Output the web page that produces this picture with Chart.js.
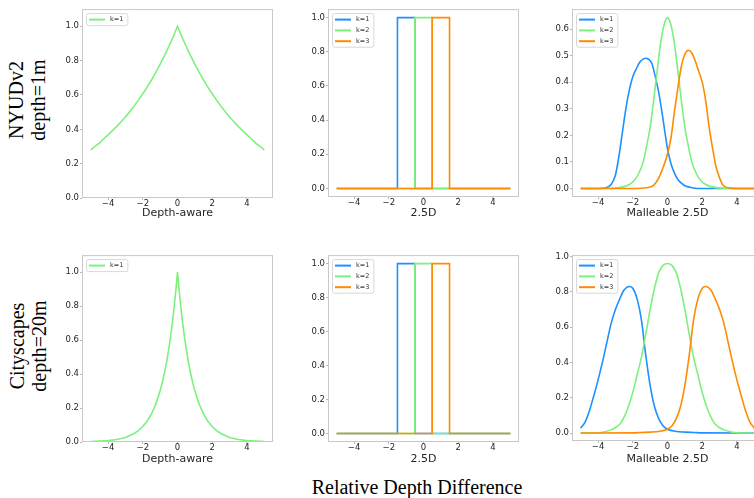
<!DOCTYPE html>
<html>
<head>
<meta charset="utf-8">
<script src="https://cdn.jsdelivr.net/npm/chart.js@4.4.1/dist/chart.umd.min.js"></script>
<style>
  html, body { margin: 0; padding: 0; background: #fff; }
  body { position: relative; width: 754px; height: 498px; overflow: hidden; }
  canvas { position: absolute; }
  .row-label {
    position: absolute; font-family: "Liberation Serif", serif; font-size: 20px; line-height: 22px;
    text-align: center; white-space: nowrap; color: #000;
    transform: translate(-50%, -50%) rotate(-90deg);
  }
  .fig-label {
    position: absolute; font-family: "Liberation Serif", serif; font-size: 20px; line-height: 20px;
    white-space: nowrap; color: #000; transform: translateX(-50%);
  }
</style>
</head>
<body>
<div class="row-label" style="left:27px; top:100px">NYUDv2<br>depth=1m</div>
<div class="row-label" style="left:28px; top:346px">Cityscapes<br>depth=20m</div>
<div class="fig-label" style="left:417px; top:477px">Relative Depth Difference</div>

<canvas id="nyuAware"></canvas>
<canvas id="nyuBins"></canvas>
<canvas id="nyuMalleable"></canvas>
<canvas id="cityAware"></canvas>
<canvas id="cityBins"></canvas>
<canvas id="cityMalleable"></canvas>

<script>
const xTicks = [-4, -2, 0, 2, 4];
const unitTicks = [0, 0.2, 0.4, 0.6, 0.8, 1.0];
const tenthTicks = [0, 0.1, 0.2, 0.3, 0.4, 0.5, 0.6];
const kLabels = ['k=1', 'k=2', 'k=3'];
const kColors = ['#1e90ff', '#7ef07e', '#ff8c00'];

// depth-aware weight, NYUDv2
const nyuAwareX = [-5, -4.75, -4.5, -4.25, -4, -3.75, -3.5, -3.25, -3, -2.75, -2.5, -2.25, -2, -1.75, -1.5, -1.25, -1, -0.75, -0.5, -0.25, 0,
                   0.25, 0.5, 0.75, 1, 1.25, 1.5, 1.75, 2, 2.25, 2.5, 2.75, 3, 3.25, 3.5, 3.75, 4, 4.25, 4.5, 4.75, 5];
const nyuAwareY = [0.28, 0.30, 0.32, 0.345, 0.368, 0.392, 0.417, 0.444, 0.472, 0.503, 0.535, 0.57, 0.607, 0.646, 0.687, 0.732, 0.779, 0.829, 0.882, 0.939, 1.0,
                   0.939, 0.882, 0.829, 0.779, 0.732, 0.687, 0.646, 0.607, 0.57, 0.535, 0.503, 0.472, 0.444, 0.417, 0.392, 0.368, 0.345, 0.32, 0.30, 0.28];

// depth-aware weight, Cityscapes
const cityAwareX = [-5, -4.5, -4, -3.5, -3, -2.5, -2.25, -2, -1.75, -1.5, -1.25, -1, -0.875, -0.75, -0.625, -0.5, -0.4, -0.3, -0.2, -0.1, 0,
                    0.1, 0.2, 0.3, 0.4, 0.5, 0.625, 0.75, 0.875, 1, 1.25, 1.5, 1.75, 2, 2.25, 2.5, 3, 3.5, 4, 4.5, 5];
const cityAwareY = [0.002, 0.005, 0.008, 0.015, 0.027, 0.05, 0.067, 0.091, 0.122, 0.165, 0.223, 0.301, 0.35, 0.407, 0.472, 0.549, 0.619, 0.698, 0.787, 0.887, 1.0,
                    0.887, 0.787, 0.698, 0.619, 0.549, 0.472, 0.407, 0.35, 0.301, 0.223, 0.165, 0.122, 0.091, 0.067, 0.05, 0.027, 0.015, 0.008, 0.005, 0.002];

// 2.5D hard bins (same for both datasets)
const binK1X = [-5, -1.5, -1.5, -0.5, -0.5, 5];
const binK2X = [-5, -0.5, -0.5, 0.5, 0.5, 5];
const binK3X = [-5, 0.5, 0.5, 1.5, 1.5, 5];
const binY = [0, 0, 1, 1, 0, 0];

// malleable 2.5D, NYUDv2
const nyuK1X = [-5, -4, -3.5, -3.25, -3, -2.8, -2.6, -2.4, -2.2, -2, -1.8, -1.6, -1.4, -1.25, -1.1, -0.9, -0.7, -0.5, -0.3, -0.1, 0, 0.2, 0.4, 0.6, 0.8, 1, 1.5, 2, 5];
const nyuK1Y = [0, 0, 0.004, 0.015, 0.05, 0.12, 0.21, 0.30, 0.37, 0.42, 0.45, 0.475, 0.487, 0.49, 0.487, 0.47, 0.42, 0.36, 0.28, 0.19, 0.15, 0.093, 0.058, 0.034, 0.02, 0.01, 0.002, 0, 0];
const nyuK2X = [-5, -3, -2.5, -2.2, -2, -1.8, -1.6, -1.4, -1.2, -1, -0.8, -0.6, -0.4, -0.2, 0, 0.2, 0.4, 0.6, 0.8, 1, 1.2, 1.4, 1.6, 1.8, 2, 2.2, 2.5, 3, 5];
const nyuK2Y = [0, 0.002, 0.007, 0.015, 0.025, 0.04, 0.065, 0.10, 0.16, 0.23, 0.33, 0.44, 0.545, 0.615, 0.643, 0.615, 0.545, 0.44, 0.33, 0.23, 0.16, 0.10, 0.065, 0.04, 0.025, 0.015, 0.007, 0.002, 0];
const nyuK3X = [-5, -2, -1.2, -0.8, -0.5, -0.25, 0, 0.2, 0.4, 0.6, 0.8, 1, 1.2, 1.4, 1.6, 1.8, 2, 2.2, 2.4, 2.6, 2.8, 3, 3.2, 3.5, 4, 5];
const nyuK3Y = [0, 0, 0.003, 0.012, 0.04, 0.08, 0.13, 0.19, 0.29, 0.38, 0.46, 0.505, 0.52, 0.51, 0.48, 0.44, 0.40, 0.33, 0.23, 0.15, 0.08, 0.04, 0.012, 0.003, 0, 0];

// malleable 2.5D, Cityscapes
const cityK1X = [-5, -4.75, -4.5, -4.25, -4, -3.75, -3.5, -3.25, -3, -2.75, -2.5, -2.2, -2, -1.75, -1.5, -1.25, -1, -0.75, -0.5, -0.25, 0, 0.5, 1, 1.5, 2, 5];
const cityK1Y = [0.028, 0.062, 0.125, 0.21, 0.30, 0.40, 0.51, 0.62, 0.70, 0.76, 0.81, 0.83, 0.82, 0.76, 0.64, 0.44, 0.27, 0.15, 0.08, 0.04, 0.022, 0.009, 0.005, 0.003, 0.001, 0];
const cityK2X = [-5, -4, -3.75, -3.25, -2.75, -2.5, -2.25, -2, -1.75, -1.5, -1.25, -1, -0.75, -0.5, -0.25, 0,
                 0.25, 0.5, 0.75, 1, 1.25, 1.5, 1.75, 2, 2.25, 2.5, 2.75, 3.25, 3.75, 4, 5];
const cityK2Y = [0, 0.002, 0.005, 0.018, 0.05, 0.09, 0.15, 0.23, 0.33, 0.43, 0.56, 0.70, 0.82, 0.91, 0.95, 0.96,
                 0.95, 0.91, 0.82, 0.70, 0.56, 0.43, 0.33, 0.23, 0.15, 0.09, 0.05, 0.018, 0.005, 0.002, 0];
const cityK3X = [-5, -2, -1.5, -1, -0.5, 0, 0.25, 0.5, 0.75, 1, 1.25, 1.5, 1.75, 2, 2.2, 2.5, 2.75, 3, 3.25, 3.5, 3.75, 4, 4.25, 4.5, 4.75, 5];
const cityK3Y = [0, 0.001, 0.003, 0.005, 0.009, 0.022, 0.04, 0.08, 0.15, 0.27, 0.44, 0.64, 0.76, 0.82, 0.83, 0.81, 0.76, 0.70, 0.62, 0.51, 0.40, 0.30, 0.21, 0.125, 0.062, 0.028];

const ink = '#262626';
const tickFont = { family: 'DejaVu Sans', size: 8.5 };
const titleFont = { family: 'DejaVu Sans', size: 11 };

// k=3 is drawn last so it sits on top, as in a plain plotting loop
function series(k, xs, ys, smooth, label = kLabels[k]) {
  return {
    label,
    order: -k,
    borderColor: kColors[k],
    backgroundColor: kColors[k],
    data: xs.map((x, i) => ({ x, y: ys[i] })),
    borderWidth: 1.6,
    pointRadius: 0,
    fill: false,
    tension: 0,
    cubicInterpolationMode: smooth ? 'monotone' : 'default'
  };
}

const minus = v => (v < 0 ? '\u2212' + Math.abs(v) : String(v));

// axes frame and a small legend box in the upper left
const frameLegend = {
  id: 'frameLegend',
  afterDraw(chart) {
    const { ctx, chartArea: a } = chart;
    ctx.save();
    ctx.strokeStyle = '#c8c8c8';
    ctx.lineWidth = 1;
    ctx.strokeRect(a.left + 0.5, a.top + 0.5, a.width - 1, a.height - 1);

    const sets = chart.data.datasets;
    ctx.font = '6.5px "DejaVu Sans"';
    const tw = Math.max(...sets.map(d => ctx.measureText(d.label).width));
    const bx = a.left + 4, by = a.top + 4;
    const bw = tw + 28, bh = 12 + (sets.length - 1) * 10.8;
    ctx.fillStyle = 'rgba(255,255,255,0.85)';
    ctx.strokeStyle = '#d8d8d8';
    ctx.beginPath();
    ctx.roundRect(bx + 0.5, by + 0.5, bw, bh, 2);
    ctx.fill();
    ctx.stroke();
    sets.forEach((d, i) => {
      const cy = by + 6.5 + i * 10.8;
      ctx.strokeStyle = d.borderColor;
      ctx.lineWidth = 2;
      ctx.beginPath();
      ctx.moveTo(bx + 3, cy);
      ctx.lineTo(bx + 19, cy);
      ctx.stroke();
      ctx.fillStyle = '#333';
      ctx.textBaseline = 'middle';
      ctx.fillText(d.label, bx + 24, cy);
    });
    ctx.restore();
  }
};

function panel(id, box, axisH, yMin, yMax, yTicks, title, datasets) {
  const yAxisW = 40, padTop = 4, padRight = 4;
  const cv = document.getElementById(id);
  cv.width = box.w + yAxisW + padRight;
  cv.height = box.h + padTop + axisH;
  cv.style.left = (box.x - yAxisW) + 'px';
  cv.style.top = (box.y - padTop) + 'px';
  const grid = { drawOnChartArea: false, drawTicks: true, tickLength: 2, color: '#b8b8b8' };
  new Chart(cv, {
    type: 'line',
    data: { datasets },
    options: {
      responsive: false,
      animation: false,
      devicePixelRatio: 1,
      layout: { padding: { top: padTop, right: padRight, left: 0, bottom: 0 } },
      plugins: { legend: { display: false }, tooltip: { enabled: false } },
      scales: {
        x: {
          type: 'linear', min: -5.5, max: 5.5,
          afterBuildTicks: s => { s.ticks = xTicks.map(v => ({ value: v })); },
          afterFit: s => { s.height = axisH; },
          ticks: { font: tickFont, color: ink, padding: -1, autoSkip: false, maxRotation: 0, callback: minus },
          grid, border: { display: false },
          title: { display: true, text: title, font: titleFont, color: ink, padding: 0 }
        },
        y: {
          type: 'linear', min: yMin, max: yMax,
          afterBuildTicks: s => { s.ticks = yTicks.map(v => ({ value: v })); },
          afterFit: s => { s.width = yAxisW; },
          ticks: { font: tickFont, color: ink, padding: 1, autoSkip: false, callback: v => v.toFixed(1) },
          grid, border: { display: false }
        }
      }
    },
    plugins: [frameLegend]
  });
}

// top row: NYUDv2
panel('nyuAware', { x: 82, y: 7, w: 191, h: 191 }, 22, 0, 1.1, unitTicks, 'Depth-aware',
  [series(1, nyuAwareX, nyuAwareY, false, kLabels[0])]);
panel('nyuBins', { x: 328, y: 7, w: 191, h: 190 }, 23, -0.05, 1.05, unitTicks, '2.5D',
  [series(0, binK1X, binY, false), series(1, binK2X, binY, false), series(2, binK3X, binY, false)]);
panel('nyuMalleable', { x: 572, y: 7, w: 191, h: 190 }, 23, -0.032, 0.675, tenthTicks, 'Malleable 2.5D',
  [series(0, nyuK1X, nyuK1Y, true), series(1, nyuK2X, nyuK2Y, true), series(2, nyuK3X, nyuK3Y, true)]);

// bottom row: Cityscapes
panel('cityAware', { x: 82, y: 253, w: 191, h: 189 }, 24, 0, 1.1, unitTicks, 'Depth-aware',
  [series(1, cityAwareX, cityAwareY, false, kLabels[0])]);
panel('cityBins', { x: 328, y: 253, w: 191, h: 189 }, 24, -0.05, 1.05, unitTicks, '2.5D',
  [series(0, binK1X, binY, false), series(1, binK2X, binY, false), series(2, binK3X, binY, false)]);
panel('cityMalleable', { x: 572, y: 253, w: 191, h: 188 }, 25, -0.045, 1.008, unitTicks, 'Malleable 2.5D',
  [series(0, cityK1X, cityK1Y, true), series(1, cityK2X, cityK2Y, true), series(2, cityK3X, cityK3Y, true)]);
</script>
</body>
</html>
